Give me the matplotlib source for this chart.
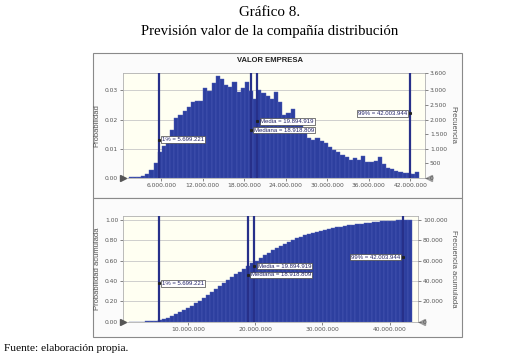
import numpy as np
import matplotlib.pyplot as plt
from matplotlib.patches import Rectangle

# histogram of the simulated company value (probability per bin)
bin_start = 1.3e6
bin_width = 0.6e6
prob = [0.0001, 0.0002, 0.0003, 0.0006, 0.0013, 0.0025, 0.005, 0.009,
        0.011, 0.013, 0.0165, 0.0205, 0.0217, 0.0228, 0.0243, 0.026, 0.0265, 0.0265,
        0.031, 0.0298, 0.0327, 0.035, 0.034, 0.032, 0.0313, 0.033, 0.0295, 0.031,
        0.033, 0.0298, 0.027, 0.030, 0.029, 0.028, 0.027, 0.0294, 0.026, 0.0217,
        0.0223, 0.0237, 0.0196, 0.018, 0.0165, 0.0136, 0.013, 0.0136, 0.0125, 0.012,
        0.0107, 0.0096, 0.009, 0.0078, 0.007, 0.0061, 0.0067, 0.0061, 0.0073, 0.0055,
        0.0055, 0.0059, 0.007, 0.0046, 0.0032, 0.0029, 0.0024, 0.0021, 0.0015, 0.0015,
        0.0013, 0.0018]
trials = 100000

# statistics marked on the charts
p1 = 5699221
media = 19894919
mediana = 18918809
p99 = 42003944

top_xticks = [6e6, 12e6, 18e6, 24e6, 30e6, 36e6, 42e6]
bot_xticks = [10e6, 20e6, 30e6, 40e6]
top_yticks = [0.00, 0.01, 0.02, 0.03]
top_rticks = [0, 500, 1000, 1500, 2000, 2500, 3000, 3600]
bot_yticks = [0.0, 0.2, 0.4, 0.6, 0.8, 1.0]
bot_rticks = [0, 20000, 40000, 60000, 80000, 100000]


def miles(v):
    return f'{int(round(v)):,}'.replace(',', '.')


prob = np.array(prob)
edges = bin_start + bin_width * np.arange(len(prob))
cum = np.cumsum(prob) / prob.sum()

W, H = 511, 361
fig = plt.figure(figsize=(W / 100, H / 100), dpi=100)
fig.patch.set_facecolor('white')

serif = ['Liberation Serif', 'DejaVu Serif']
sans = ['Liberation Sans', 'DejaVu Sans']
fig.text(270 / W, 1 - 12.5 / H, 'Gráfico 8.', ha='center', va='center', family=serif,
         size=10.8)
fig.text(270 / W, 1 - 32 / H, 'Previsión valor de la compañía distribución', ha='center',
         va='center', family=serif, size=10.6)
fig.text(4 / W, 1 - 348.5 / H, 'Fuente: elaboración propia.', ha='left', va='center',
         family=serif, size=8.2)

# chart panel frames
def px_rect(x0, y0, x1, y1, **kw):
    fig.patches.append(Rectangle((x0 / W, 1 - y1 / H), (x1 - x0) / W, (y1 - y0) / H,
                                 transform=fig.transFigure, zorder=-5, **kw))

px_rect(93, 53, 462, 198, fc='#fbfbfb', ec='#8a8a8a', lw=0.8)
px_rect(93, 198, 462, 337, fc='#fbfbfb', ec='#8a8a8a', lw=0.8)
fig.text(270 / W, 1 - 61 / H, 'VALOR EMPRESA', ha='center', va='center', family=sans,
         size=5.5, weight='bold', color='#222222')

bar_fc = '#2d3f9f'
bar_ec = '#4f60b8'
line_c = '#27308a'
fs = 4.3


def style(ax, axr):
    ax.set_facecolor('#fffff2')
    for s in ax.spines.values():
        s.set_color('#b0b0b0')
        s.set_linewidth(0.6)
    ax.grid(axis='y', color='#c8c8c8', lw=0.6)
    ax.set_axisbelow(True)
    ax.tick_params(labelsize=fs, colors='#555555', length=2, width=0.5, pad=1.5)
    axr.tick_params(labelsize=fs, colors='#555555', length=2, width=0.5, pad=1.5)
    for s in axr.spines.values():
        s.set_visible(False)
    ax.plot([0], [0], marker='>', ms=4, color='#555555', transform=ax.transAxes,
            clip_on=False, zorder=6)
    ax.plot([1.012], [0], marker='<', ms=4.5, color='#999999', transform=ax.transAxes,
            clip_on=False, zorder=6)


def marks(ax, labels):
    for x, y, txt, side in labels:
        ax.axvline(x, color=line_c, lw=1.6, zorder=4)
        ax.plot([x], [y], marker='s', ms=1.2, color='#222222', zorder=6)
        if side == 'r':
            ax.text(x + 0.45e6, y, txt, ha='left', va='center', size=fs, family=sans,
                    color='#222266', zorder=7,
                    bbox=dict(boxstyle='square,pad=0.15', fc='white', ec='#444444', lw=0.5))
        else:
            ax.text(x - 0.45e6, y, txt, ha='right', va='center', size=fs, family=sans,
                    color='#222266', zorder=7,
                    bbox=dict(boxstyle='square,pad=0.15', fc='white', ec='#444444', lw=0.5))


# top chart: probability histogram
ax1 = fig.add_axes([123 / W, 1 - 177.7 / H, 302 / W, 104.7 / H])
ax1.bar(edges, prob, width=bin_width, align='edge', color=bar_fc, edgecolor=bar_ec,
        lw=0.3, zorder=3)
ax1.set_xlim(0.49e6, 44.13e6)
ax1.set_ylim(0, 0.036)
ax1.set_xticks(top_xticks)
ax1.set_xticklabels([miles(v) for v in top_xticks])
ax1.set_yticks(top_yticks)
ax1.set_yticklabels([f'{v:.2f}' for v in top_yticks])
ax1.set_ylabel('Probabilidad', size=5.5, family=sans, color='#555555', labelpad=3)
ax1r = ax1.twinx()
ax1r.set_ylim(0, 0.036 * trials)
ax1r.set_yticks(top_rticks)
ax1r.set_yticklabels([miles(v) for v in top_rticks])
ax1r.set_ylabel('Frecuencia', size=5.5, family=sans, color='#555555', rotation=270,
                labelpad=7)
style(ax1, ax1r)
marks(ax1, [(p1, 0.013, '1% = ' + miles(p1), 'r'),
            (media, 0.0194, 'Media = ' + miles(media), 'r'),
            (mediana, 0.0164, 'Mediana = ' + miles(mediana), 'r'),
            (p99, 0.0221, '99% = ' + miles(p99), 'l')])

# bottom chart: cumulative probability
ax2 = fig.add_axes([123 / W, 1 - 321.7 / H, 295 / W, 105.7 / H])
ax2.bar(edges, cum, width=bin_width, align='edge', color=bar_fc, edgecolor=bar_ec,
        lw=0.3, zorder=3)
ax2.set_xlim(0.36e6, 44.19e6)
ax2.set_ylim(0, 1.04)
ax2.set_xticks(bot_xticks)
ax2.set_xticklabels([miles(v) for v in bot_xticks])
ax2.set_yticks(bot_yticks)
ax2.set_yticklabels([f'{v:.2f}' for v in bot_yticks])
ax2.set_ylabel('Probabilidad acumulada', size=5.5, family=sans, color='#555555', labelpad=3)
ax2r = ax2.twinx()
ax2r.set_ylim(0, 1.04 * trials)
ax2r.set_yticks(bot_rticks)
ax2r.set_yticklabels([miles(v) for v in bot_rticks])
ax2r.set_ylabel('Frecuencia acumulada', size=5.5, family=sans, color='#555555',
                rotation=270, labelpad=7)
style(ax2, ax2r)
marks(ax2, [(p1, 0.376, '1% = ' + miles(p1), 'r'),
            (media, 0.548, 'Media = ' + miles(media), 'r'),
            (mediana, 0.46, 'Mediana = ' + miles(mediana), 'r'),
            (p99, 0.636, '99% = ' + miles(p99), 'l')])

fig.savefig('out.png', dpi=100)
